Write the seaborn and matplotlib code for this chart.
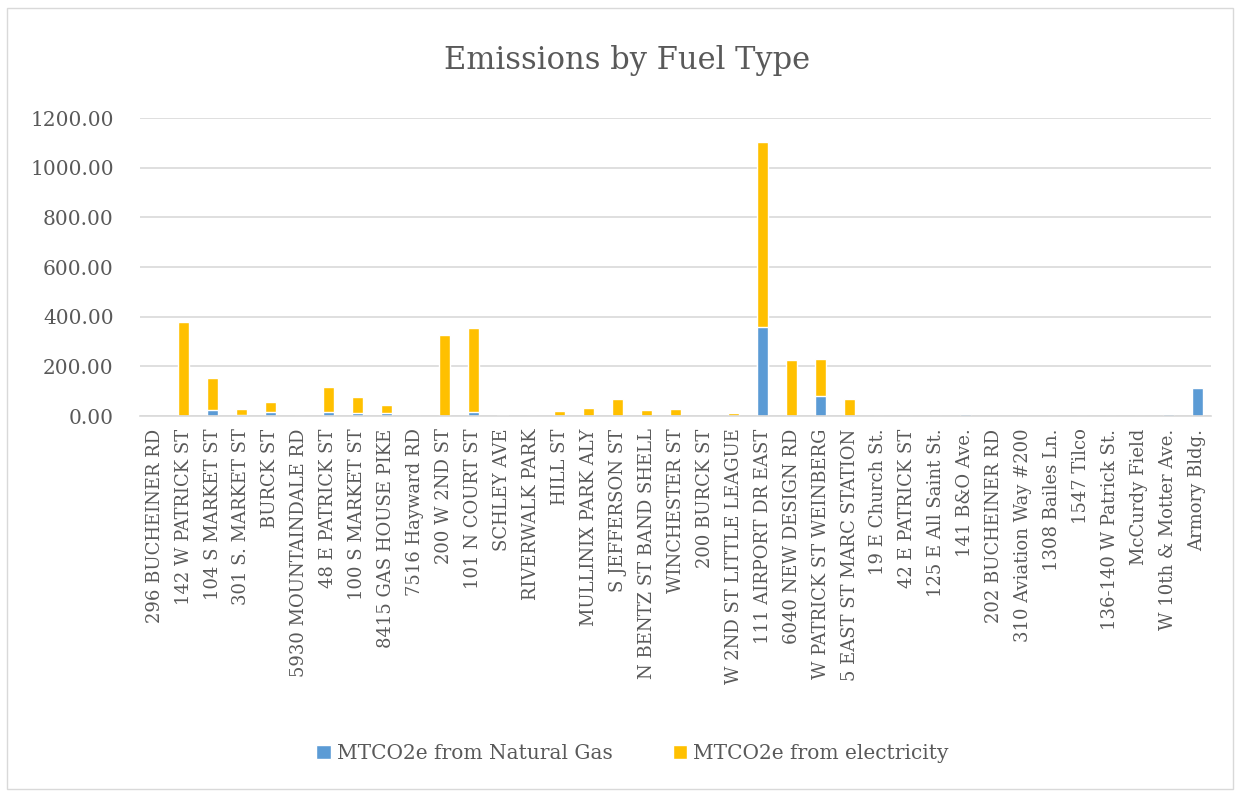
import pandas as pd
import numpy as np
import matplotlib
matplotlib.use('Agg')
import matplotlib.pyplot as plt
import seaborn as sns
from matplotlib.patches import Rectangle, Patch

# building names (x axis)
sites = ['296 BUCHEINER RD', '142 W PATRICK ST', '104 S MARKET ST', '301 S. MARKET ST',
         'BURCK ST', '5930 MOUNTAINDALE RD', '48 E PATRICK ST', '100 S MARKET ST',
         '8415 GAS HOUSE PIKE', '7516 Hayward RD', '200 W 2ND ST', '101 N COURT ST',
         'SCHLEY AVE', 'RIVERWALK PARK', 'HILL ST', 'MULLINIX PARK ALY', 'S JEFFERSON ST',
         'N BENTZ ST BAND SHELL', 'WINCHESTER ST', '200 BURCK ST', 'W 2ND ST LITTLE LEAGUE',
         '111 AIRPORT DR EAST', '6040 NEW DESIGN RD', 'W PATRICK ST WEINBERG',
         '5 EAST ST MARC STATION', '19 E Church St.', '42 E PATRICK ST', '125 E All Saint St.',
         '141 B&O Ave.', '202 BUCHEINER RD', '310 Aviation Way #200', '1308 Bailes Ln.',
         '1547 Tilco', '136-140 W Patrick St.', 'McCurdy Field', 'W 10th & Motter Ave.',
         'Armory Bldg.']

# MTCO2e values
gas = [0, 0, 25, 6, 15, 0, 17, 12, 12, 0, 0, 17, 0, 0, 0, 0, 0, 0, 0, 0, 0,
       357, 0, 79, 0, 0, 1, 1, 8, 1, 1, 0, 1, 1, 1, 8, 113]
elec = [2, 378, 129, 22, 41, 2, 100, 65, 32, 0, 327, 339, 4, 2, 20, 31, 68, 24, 27, 2, 12,
        746, 227, 151, 70, 0, 0, 0, 0, 0, 0, 0, 0, 0, 0, 0, 0]

df = pd.DataFrame({'site': sites, 'gas': gas, 'elec': elec})
df['total'] = df['gas'] + df['elec']

blue = '#5B9BD5'
gold = '#FFC000'
txt = '#595959'

sns.set_style('white')
plt.rcParams['font.family'] = ['DejaVu Serif']

fig = plt.figure(figsize=(12.4, 7.92), dpi=100)
ax = fig.add_axes([0.113, 0.4747, 0.864, 0.3763])

# stacked: draw totals first, natural gas on top of it
sns.barplot(data=df, x='site', y='total', color=gold, width=0.38, saturation=1, ax=ax)
sns.barplot(data=df, x='site', y='gas', color=blue, width=0.38, saturation=1, ax=ax)

ax.set_ylim(0, 1200)
ax.set_xlim(-0.5, len(sites) - 0.5)
ax.set_yticks(np.arange(0, 1201, 200))
ax.set_yticklabels([f'{v:.2f}' for v in np.arange(0, 1201, 200)], fontsize=14.5, color=txt)
ax.set_xticks(range(len(sites)))
ax.set_xticklabels(sites, rotation=90, fontsize=13, color=txt)
ax.tick_params(axis='y', length=0, pad=19)
ax.tick_params(axis='x', length=0, pad=9)
ax.set_xlabel('')
ax.set_ylabel('')
ax.grid(axis='y', color='#D9D9D9', linewidth=1.2)
ax.set_axisbelow(True)
for s in ['top', 'right', 'left']:
    ax.spines[s].set_visible(False)
ax.spines['bottom'].set_color('#D9D9D9')
ax.spines['bottom'].set_linewidth(1.2)

fig.text(0.506, 0.924, 'Emissions by Fuel Type', ha='center', va='center',
         fontsize=22, color=txt)

handles = [Patch(facecolor=blue, label='MTCO2e from Natural Gas'),
           Patch(facecolor=gold, label='MTCO2e from electricity')]
fig.legend(handles=handles, loc='center', bbox_to_anchor=(0.51, 0.049), ncol=2,
           frameon=False, fontsize=14.5, labelcolor=txt, handlelength=0.7,
           handleheight=0.7, handletextpad=0.3, columnspacing=3)

# chart border
fig.patches.append(Rectangle((0.006, 0.004), 0.988, 0.986, transform=fig.transFigure,
                             fill=False, edgecolor='#D9D9D9', linewidth=1))

fig.savefig('out.png', dpi=100)
